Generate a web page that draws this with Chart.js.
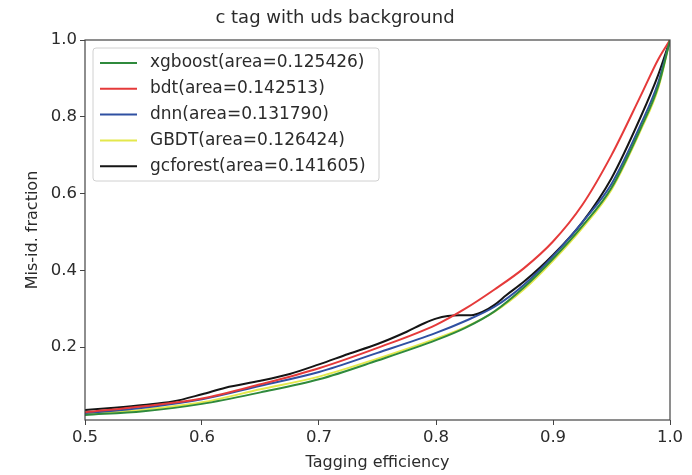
<!DOCTYPE html>
<html>
<head>
<meta charset="utf-8">
<script src="https://cdn.jsdelivr.net/npm/chart.js@4.4.1/dist/chart.umd.min.js"></script>
<style>
  html, body { margin: 0; padding: 0; background: #fff; }
  #wrap { width: 692px; height: 475px; }
</style>
</head>
<body>
<div id="wrap"><canvas id="roc" width="692" height="475"></canvas></div>
<script>
// tagging efficiency grid shared by most curves
const effGrid = [0.5, 0.55, 0.6, 0.65, 0.7, 0.75, 0.8, 0.825, 0.85, 0.875, 0.9, 0.925, 0.95, 0.975, 0.99, 1.0];

const xgboostVals = [0.023, 0.033, 0.052, 0.082, 0.116, 0.165, 0.218, 0.250, 0.293, 0.355, 0.430, 0.515, 0.615, 0.770, 0.880, 1.0];
const bdtVals     = [0.030, 0.046, 0.066, 0.103, 0.145, 0.198, 0.258, 0.300, 0.350, 0.405, 0.475, 0.570, 0.700, 0.855, 0.950, 1.0];
const dnnVals     = [0.028, 0.042, 0.064, 0.099, 0.135, 0.185, 0.237, 0.268, 0.305, 0.362, 0.437, 0.525, 0.625, 0.780, 0.890, 1.0];
const gbdtVals    = [0.026, 0.037, 0.056, 0.090, 0.123, 0.170, 0.222, 0.252, 0.292, 0.350, 0.425, 0.510, 0.610, 0.765, 0.875, 1.0];

// gcforest has a kink around 0.8, so it gets its own grid
const gcforestEff  = [0.5, 0.525, 0.55, 0.575, 0.6, 0.62, 0.65, 0.675, 0.7, 0.725, 0.75, 0.775, 0.79, 0.8, 0.81, 0.82, 0.83, 0.84, 0.85, 0.86, 0.875, 0.9, 0.925, 0.95, 0.975, 0.99, 1.0];
const gcforestVals = [0.036, 0.042, 0.049, 0.058, 0.077, 0.094, 0.112, 0.130, 0.155, 0.182, 0.208, 0.240, 0.262, 0.274, 0.281, 0.283, 0.283, 0.292, 0.310, 0.335, 0.370, 0.440, 0.525, 0.640, 0.800, 0.910, 1.0];

const seriesLabels = [
    "xgboost(area=0.125426)",
    "bdt(area=0.142513)",
    "dnn(area=0.131790)",
    "GBDT(area=0.126424)",
    "gcforest(area=0.141605)"
];
const seriesColors = ["#2f8a3c", "#e53a3a", "#2f50a2", "#e4e84c", "#151515"];

const xTicks = [0.5, 0.6, 0.7, 0.8, 0.9, 1.0];
const yTicks = [0.2, 0.4, 0.6, 0.8, 1.0];

const FONT = "'DejaVu Sans', sans-serif";
const INK = "#2b2b2b";

function pts(xs, ys) {
    return xs.map((x, i) => ({ x: x, y: ys[i] }));
}

// matplotlib style frame plus an inset legend
const framePlugin = {
    id: "frame",
    afterDraw(chart) {
        const { ctx, chartArea: a } = chart;
        ctx.save();
        ctx.strokeStyle = "#444";
        ctx.lineWidth = 1.2;
        ctx.strokeRect(a.left, a.top, a.right - a.left, a.bottom - a.top);

        const bx = a.left + 8, by = a.top + 8, bw = 286, bh = 133;
        ctx.fillStyle = "rgba(255,255,255,0.85)";
        ctx.strokeStyle = "#d0d0d0";
        ctx.lineWidth = 1;
        ctx.beginPath();
        ctx.roundRect(bx, by, bw, bh, 3);
        ctx.fill();
        ctx.stroke();

        ctx.font = "17px " + FONT;
        ctx.textBaseline = "middle";
        seriesLabels.forEach((label, i) => {
            const y = by + 15 + i * 25.8;
            ctx.strokeStyle = seriesColors[i];
            ctx.lineWidth = 2;
            ctx.beginPath();
            ctx.moveTo(bx + 7, y);
            ctx.lineTo(bx + 44, y);
            ctx.stroke();
            ctx.fillStyle = INK;
            ctx.fillText(label, bx + 57, y);
        });
        ctx.restore();
    }
};

const allVals = [xgboostVals, bdtVals, dnnVals, gbdtVals];
const datasets = allVals.map((vals, i) => ({
    label: seriesLabels[i],
    data: pts(effGrid, vals),
    borderColor: seriesColors[i],
    borderWidth: 2,
    pointRadius: 0,
    fill: false,
    cubicInterpolationMode: "monotone"
}));
datasets.push({
    label: seriesLabels[4],
    data: pts(gcforestEff, gcforestVals),
    borderColor: seriesColors[4],
    borderWidth: 2,
    pointRadius: 0,
    fill: false,
    cubicInterpolationMode: "monotone"
});

new Chart(document.getElementById("roc"), {
    type: "line",
    data: { datasets },
    options: {
        responsive: false,
        animation: false,
        layout: { padding: { left: 0, right: 22, top: 0, bottom: 0 } },
        plugins: {
            legend: { display: false },
            tooltip: { enabled: false },
            title: {
                display: true,
                text: "c tag with uds background",
                color: INK,
                font: { family: FONT, size: 18, weight: "normal" },
                padding: { top: 8, bottom: 10.4 }
            }
        },
        scales: {
            x: {
                type: "linear",
                min: 0.5,
                max: 1.0,
                afterBuildTicks: s => { s.ticks = xTicks.map(v => ({ value: v })); },
                afterFit: s => { s.height = 55; },
                ticks: {
                    color: INK,
                    font: { family: FONT, size: 16.5 },
                    padding: 3,
                    maxRotation: 0,
                    callback: v => v.toFixed(1)
                },
                grid: { display: true, drawOnChartArea: false, drawTicks: true, tickLength: 5, color: "#444" },
                border: { display: false },
                title: {
                    display: true,
                    text: "Tagging efficiency",
                    color: INK,
                    font: { family: FONT, size: 16 },
                    padding: { top: 0, bottom: 3 }
                }
            },
            y: {
                type: "linear",
                min: 0.01,
                max: 1.0,
                afterBuildTicks: s => { s.ticks = yTicks.map(v => ({ value: v })); },
                afterFit: s => { s.width = 85; },
                ticks: {
                    color: INK,
                    font: { family: FONT, size: 16.5 },
                    padding: 3,
                    callback: v => v.toFixed(1)
                },
                grid: { display: true, drawOnChartArea: false, drawTicks: true, tickLength: 5, color: "#444" },
                border: { display: false },
                title: {
                    display: true,
                    text: "Mis-id. fraction",
                    color: INK,
                    font: { family: FONT, size: 16 },
                    padding: { top: 23, bottom: 0 }
                }
            }
        }
    },
    plugins: [framePlugin]
});
</script>
</body>
</html>
